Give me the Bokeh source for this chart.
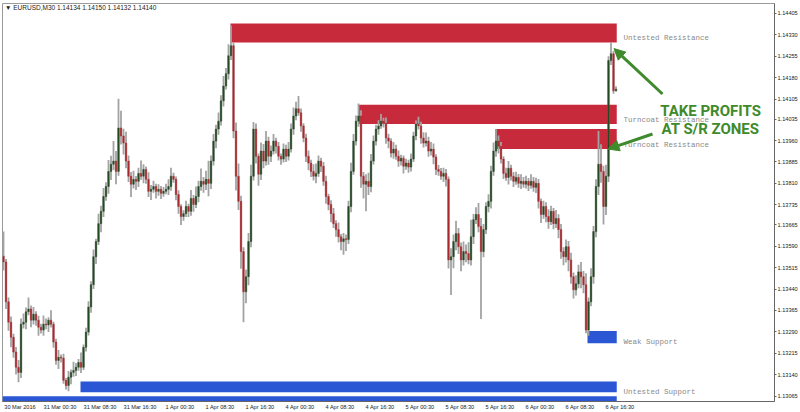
from bokeh.plotting import figure
from bokeh.models import Range1d, FixedTicker, PrintfTickFormatter, Label, Arrow, NormalHead, ColumnDataSource
from bokeh.embed import file_html
from bokeh.resources import INLINE

# ---------------- data (prices in 1e-5 above 1.13000) ----------------
first_open = 555
closes = [
    535, 395, 324, 271, 219, 166, 148, 317, 324, 360,
    370, 331, 352, 331, 306, 296, 317, 314, 331, 317,
    254, 190, 201, 198, 120, 102, 131, 148, 155, 166,
    183, 166, 236, 289, 377, 455, 553, 606, 669, 712,
    764, 799, 852, 877, 888, 852, 1004, 976, 951, 888,
    835, 807, 824, 817, 845, 835, 859, 824, 782, 789,
    799, 782, 789, 775, 782, 789, 799, 835, 824, 771,
    729, 694, 704, 729, 712, 757, 736, 764, 799, 817,
    807, 824, 810, 888, 958, 1000, 1028, 1099, 1151, 1194,
    1257, 1292, 993, 835, 747, 571, 430, 483, 606, 835,
    1000, 905, 842, 923, 888, 958, 905, 923, 958, 940,
    905, 895, 930, 905, 930, 1000, 1046, 1071, 1057, 1011,
    969, 905, 881, 852, 835, 845, 888, 870, 817, 764,
    736, 704, 669, 648, 623, 606, 616, 613, 729, 852,
    958, 1028, 1046, 835, 807, 817, 799, 888, 958, 1000,
    1011, 1028, 1021, 969, 958, 916, 930, 905, 888, 898,
    870, 881, 867, 895, 976, 1018, 1011, 969, 951, 958,
    923, 930, 902, 859, 852, 835, 845, 824, 542, 553,
    606, 634, 588, 542, 571, 564, 542, 623, 683, 701,
    659, 571, 648, 729, 747, 852, 923, 958, 940, 895,
    845, 831, 863, 835, 817, 831, 810, 817, 807, 817,
    803, 817, 796, 810, 747, 701, 729, 694, 676, 712,
    669, 687, 648, 571, 553, 588, 542, 483, 437, 458,
    500, 483, 455, 296, 395, 483, 641, 799, 877, 852,
    729, 835, 1240, 1264, 1134, 1140,
]
upper_wick = [
    86, 10, 15, 20, 12, 18, 25, 20, 30, 15,
    40, 12, 25, 10, 15, 12, 30, 20, 10, 35,
    8, 12, 25, 10, 15, 8, 22, 10, 30, 15,
    12, 35, 10, 15, 20, 12, 25, 10, 35, 20,
    30, 15, 40, 30, 70, 35, 102, 60, 25, 40,
    20, 15, 30, 12, 20, 45, 18, 10, 25, 15,
    20, 10, 18, 12, 15, 20, 25, 30, 12, 10,
    15, 8, 12, 20, 10, 30, 12, 35, 20, 45,
    15, 30, 65, 20, 25, 15, 30, 20, 35, 20,
    40, 71, 10, 30, 45, 20, 15, 25, 30, 40,
    25, 20, 10, 30, 25, 35, 15, 20, 25, 12,
    15, 10, 20, 15, 25, 20, 30, 25, 45, 15,
    10, 15, 20, 12, 25, 35, 20, 12, 15, 20,
    10, 15, 20, 12, 25, 10, 20, 15, 20, 30,
    25, 20, 44, 20, 15, 25, 30, 25, 20, 15,
    20, 25, 12, 20, 15, 10, 25, 15, 20, 12,
    10, 15, 12, 20, 15, 12, 25, 15, 20, 30,
    15, 25, 20, 10, 15, 12, 20, 15, 10, 30,
    25, 45, 20, 15, 35, 25, 40, 60, 20, 25,
    40, 30, 20, 15, 25, 20, 30, 42, 20, 15,
    10, 20, 25, 12, 15, 20, 12, 25, 15, 20,
    12, 25, 15, 20, 15, 10, 20, 15, 25, 20,
    12, 30, 15, 20, 15, 25, 20, 25, 15, 30,
    25, 35, 20, 40, 15, 30, 20, 25, 116, 70,
    20, 40, 15, 39, 10, 10,
]
lower_wick = [
    30, 25, 30, 35, 20, 25, 35, 20, 15, 25,
    12, 25, 15, 20, 30, 12, 20, 15, 25, 12,
    20, 15, 30, 15, 12, 14, 20, 25, 15, 20,
    12, 20, 10, 15, 12, 20, 15, 25, 12, 30,
    20, 15, 25, 30, 20, 45, 15, 30, 40, 25,
    20, 45, 15, 30, 20, 12, 25, 15, 20, 30,
    12, 25, 15, 20, 12, 10, 20, 15, 12, 20,
    25, 30, 15, 12, 20, 15, 25, 12, 20, 15,
    30, 20, 45, 20, 15, 25, 20, 15, 20, 12,
    20, 15, 25, 50, 30, 60, 106, 40, 30, 20,
    15, 25, 40, 20, 25, 15, 30, 20, 12, 25,
    15, 20, 12, 20, 15, 12, 20, 15, 10, 20,
    15, 20, 25, 20, 15, 25, 12, 20, 15, 25,
    20, 30, 15, 25, 20, 30, 46, 40, 15, 20,
    12, 15, 20, 40, 50, 95, 30, 20, 12, 15,
    20, 10, 15, 20, 25, 15, 20, 12, 20, 15,
    25, 12, 20, 15, 10, 15, 12, 20, 15, 12,
    20, 15, 25, 20, 15, 12, 20, 25, 30, 123,
    40, 30, 25, 40, 20, 30, 15, 20, 25, 15,
    20, 236, 20, 15, 20, 25, 15, 20, 25, 15,
    20, 12, 25, 15, 20, 12, 15, 20, 12, 15,
    20, 12, 15, 20, 25, 30, 15, 20, 25, 12,
    20, 15, 30, 25, 30, 20, 40, 25, 30, 20,
    15, 40, 30, 11, 20, 15, 25, 20, 30, 40,
    63, 30, 20, 15, 10, 2,
]

x_tick_bars = [0, 16, 32, 48, 64, 80, 96, 112, 128, 144, 160, 176, 192, 208, 224, 240]
x_tick_labels = ["30 Mar 2016", "31 Mar 00:30", "31 Mar 08:30", "31 Mar 16:30",
                 "1 Apr 00:30", "1 Apr 08:30", "1 Apr 16:30", "4 Apr 00:30",
                 "4 Apr 08:30", "4 Apr 16:30", "5 Apr 00:30", "5 Apr 08:30",
                 "5 Apr 16:30", "6 Apr 00:30", "6 Apr 08:30", "6 Apr 16:30"]
y_tick_values = [1.14405, 1.14330, 1.14255, 1.14180, 1.14105, 1.14035, 1.13960,
                 1.13885, 1.13810, 1.13735, 1.13665, 1.13590, 1.13515, 1.13440,
                 1.13365, 1.13290, 1.13215, 1.13140, 1.13065]

zone_names = ["Untested Resistance", "Turncoat Resistance", "Turncoat Resistance",
              "Weak Support", "Untested Support", ""]
zone_kind = ["res", "res", "res", "sup", "sup", "sup"]
zone_start_bar = [90.8, 141.8, 196.6, 233.6, 30.8, -0.4]
zone_end_bar = [245.3, 245.3, 245.3, 245.3, 245.3, 245.3]
zone_top = [1370, 1085, 1000, 293, 116, 64]
zone_bottom = [1303, 1018, 930, 250, 78, 30]
zone_label_level = [1320, 1032, 944, 256, 81, None]

header_text = "\u25BC EURUSD,M30  1.14134 1.14150 1.14132 1.14140"
bid_text = "1.14143"

# ---------------- derived ----------------
BASE = 1.13
def px(v):
    return BASE + v / 1e5

n = len(closes)
opens = [first_open] + closes[:-1]
idx = list(range(n))
o = [px(v) for v in opens]
c = [px(v) for v in closes]
hi = [px(max(a, b) + u) for a, b, u in zip(opens, closes, upper_wick)]
lo = [px(min(a, b) - d) for a, b, d in zip(opens, closes, lower_wick)]
top = [max(a, b) for a, b in zip(o, c)]
bot = [min(a, b) for a, b in zip(o, c)]
top = [t if t - b > 0.000012 else b + 0.000012 for t, b in zip(top, bot)]
col = ["#244a24" if b >= a else "#a82a2e" for a, b in zip(opens, closes)]

src = ColumnDataSource(dict(x=idx, hi=hi, lo=lo, top=top, bot=bot, col=col))

RED = "#c72a3a"
BLUE = "#2b57d4"
GREEN = "#3e8a2c"
X_END = 308.4

p = figure(width=800, height=412, output_backend="svg", toolbar_location=None,
           x_range=Range1d(-0.4, X_END), y_range=Range1d(1.13046, 1.14440),
           y_axis_location="right", min_border_left=2, min_border_top=3,
           min_border_right=0, min_border_bottom=0)
p.xgrid.visible = False
p.ygrid.visible = False
p.outline_line_color = "#9a9a9a"
p.background_fill_color = "white"
p.border_fill_color = "white"

zsrc = ColumnDataSource(dict(
    left=zone_start_bar, right=zone_end_bar,
    top=[px(v) for v in zone_top], bottom=[px(v) for v in zone_bottom],
    color=[RED if k == "res" else BLUE for k in zone_kind]))
p.quad(left="left", right="right", top="top", bottom="bottom", fill_color="color",
       line_color=None, source=zsrc)

p.segment(x0="x", y0="lo", x1="x", y1="hi", line_color="#a3a3a3", line_width=1.8, source=src)
p.vbar(x="x", width=0.6, top="top", bottom="bot", fill_color="col", line_color="col",
       line_width=0.5, source=src)

for name, lvl in zip(zone_names, zone_label_level):
    if lvl is None:
        continue
    p.add_layout(Label(x=248, y=px(lvl), text=name, text_font="Liberation Mono",
                       text_font_size="7.5px", text_color="#8a8a8a", text_baseline="middle"))

p.add_layout(Label(x=0.6, y=1.14426, text=header_text, text_font="Liberation Sans",
                   text_font_size="6.5px", text_color="#222222", text_baseline="middle"))

for txt, yy in [("TAKE PROFITS", 1.14064), ("AT S/R ZONES", 1.14000)]:
    p.add_layout(Label(x=282.8, y=yy, text=txt, text_font="Roboto", text_font_style="bold",
                       text_font_size="15px", text_color=GREEN, text_align="center",
                       text_baseline="middle"))

p.add_layout(Arrow(end=NormalHead(size=11, fill_color=GREEN, line_color=GREEN),
                   x_start=263.6, y_start=1.14123, x_end=244.2, y_end=1.14282,
                   line_color=GREEN, line_width=3))
p.add_layout(Arrow(end=NormalHead(size=11, fill_color=GREEN, line_color=GREEN),
                   x_start=259.6, y_start=1.13983, x_end=241.8, y_end=1.13930,
                   line_color=GREEN, line_width=3))

# axes
# MT4 labels start at their bar; Bokeh centres labels, so the label anchor is moved
# half a label width (about 6.6 bars) to the right of the bar.
LABEL_SHIFT = 6.6
xa = p.xaxis[0]
xa.ticker = FixedTicker(ticks=[b + LABEL_SHIFT for b in x_tick_bars])
xa.major_label_overrides = {b + LABEL_SHIFT: t for b, t in zip(x_tick_bars, x_tick_labels)}
xa.major_tick_out = 0
xa.major_label_standoff = 2
ya = p.yaxis[0]
ya.ticker = FixedTicker(ticks=y_tick_values)
ya.formatter = PrintfTickFormatter(format="%.5f")
ya.major_tick_out = 2
ya.major_label_standoff = 1
for ax in (xa, ya):
    ax.major_label_text_font = "Liberation Sans"
    ax.major_label_text_font_size = "5.6px"
    ax.major_label_text_color = "#222222"
    ax.axis_line_color = "#666666"
    ax.major_tick_line_color = "#666666"
    ax.major_tick_in = 0
    ax.minor_tick_out = 0
    ax.minor_tick_in = 0
    ax.axis_label_standoff = 0

p.add_layout(Label(x=X_END, y=px(closes[-1]), text=bid_text, text_font="Liberation Sans",
                   text_font_size="5.6px", text_color="white", text_baseline="middle",
                   background_fill_color="black", x_offset=2))

open("out.html", "w").write(file_html(p, INLINE))
